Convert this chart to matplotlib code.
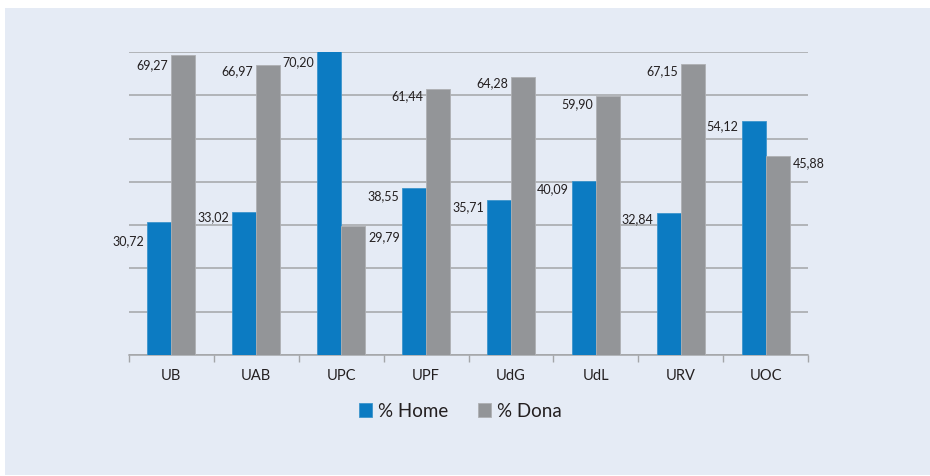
import numpy as np
import matplotlib
matplotlib.use("Agg")
import matplotlib.pyplot as plt
from matplotlib.patches import Rectangle

plt.rcParams['font.family'] = ['Lato', 'DejaVu Sans']

universities = ['UB', 'UAB', 'UPC', 'UPF', 'UdG', 'UdL', 'URV', 'UOC']
home = [30.72, 33.02, 70.20, 38.55, 35.71, 40.09, 32.84, 54.12]
dona = [69.27, 66.97, 29.79, 61.44, 64.28, 59.90, 67.15, 45.88]

# which side of its bar each value label sits on, and how far below the top (px)
home_side = ['left'] * 8
dona_side = ['left', 'left', 'right', 'left', 'left', 'left', 'left', 'right']
home_drop = [18, 4, 9, 7, 6, 7, 5, 4]
dona_drop = [9, 5, 10, 6, 5, 7, 6, 6]

blue = '#0c7bc2'
grey = '#939598'
bg = '#e5ebf5'

fig = plt.figure(figsize=(9.3, 4.77), dpi=100)
fig.patch.set_facecolor('white')
fig.patches.append(Rectangle((5 / 930, 1 / 477), 925 / 930, 467 / 477,
                             transform=fig.transFigure, facecolor=bg,
                             edgecolor='none', zorder=-10))

ax = fig.add_axes([129 / 930, 1 - 356 / 477, 679 / 930, 303 / 477])
ax.set_facecolor('none')

x = np.arange(len(universities))
w = 0.283
b1 = ax.bar(x - w / 2, home, w, color=blue, edgecolor='#3d95cc', linewidth=0.6,
            label='% Home', zorder=3)
b2 = ax.bar(x + w / 2, dona, w, color=grey, edgecolor='#aeb0b3', linewidth=0.6,
            label='% Dona', zorder=3)

ax.set_ylim(0, 70)
ax.set_xlim(-0.5, len(universities) - 0.5)
ax.set_yticks(np.arange(0, 71, 10))
ax.yaxis.grid(True, color='#a3a5a8', linewidth=1.1, zorder=1)
ax.tick_params(axis='y', left=False, labelleft=False)

ax.set_xticks(x)
ax.set_xticklabels(universities, fontsize=10.5, color='#231f20')
ax.tick_params(axis='x', length=0, pad=9)
ax.set_xticks(np.arange(-0.5, len(universities)), minor=True)
ax.tick_params(axis='x', which='minor', length=5, color='#a3a5a8', width=1)

for s in ['left', 'right', 'top']:
    ax.spines[s].set_visible(False)
ax.spines['bottom'].set_color('#a3a5a8')
ax.spines['bottom'].set_linewidth(1.1)


def put_labels(bars, vals, sides, drops):
    for bar, v, side, d in zip(bars, vals, sides, drops):
        top = min(v, 70)
        if side == 'left':
            xx, ha, dx = bar.get_x(), 'right', -3
        else:
            xx, ha, dx = bar.get_x() + bar.get_width(), 'left', 3
        ax.annotate(f'{v:.2f}'.replace('.', ','), (xx, top),
                    xytext=(dx, -d), textcoords='offset pixels',
                    ha=ha, va='center', fontsize=9, color='#231f20',
                    zorder=4, annotation_clip=False)


put_labels(b1, home, home_side, home_drop)
put_labels(b2, dona, dona_side, dona_drop)

fig.legend(handles=[b1, b2], loc='center', bbox_to_anchor=(0.495, 1 - 412 / 477),
           ncol=2, frameon=False, fontsize=13.5, handlelength=0.7,
           handleheight=0.7, handletextpad=0.3, columnspacing=1.6,
           labelcolor='#231f20')

fig.savefig('out.png', dpi=100, facecolor=fig.get_facecolor())
